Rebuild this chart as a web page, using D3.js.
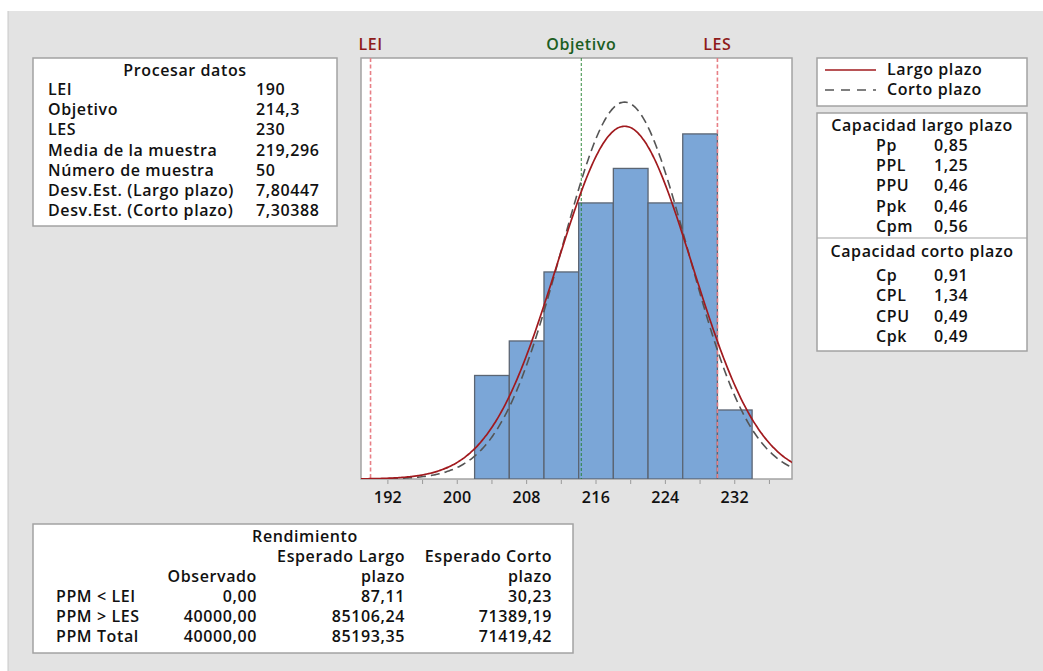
<!DOCTYPE html>
<html>
<head>
<meta charset="utf-8">
<script src="https://cdn.jsdelivr.net/npm/d3@7"></script>
<style>
  html, body { margin: 0; padding: 0; background: #ffffff; }
  svg text { font-family: "Open Sans", "Noto Sans", sans-serif; font-size: 16px; font-weight: 600; letter-spacing: 0.6px; fill: #111; }
</style>
</head>
<body>
<svg id="chart" width="1043" height="671"></svg>
<script>
// Process specification
const lei = 190;
const target = 214.3;
const les = 230;
const sampleMean = 219.296;
const sampleSize = 50;
const sdOverall = 7.80447;
const sdWithin = 7.30388;

// Histogram bins (start of each bin, width 4) and frequencies
const binStarts = [202, 206, 210, 214, 218, 222, 226, 230];
const binWidth = 4;
const binCounts = [3, 4, 6, 8, 9, 8, 10, 2];

// Axis ticks
const majorTicks = [192, 200, 208, 216, 224, 232];
const minorTicks = [196, 204, 212, 220, 228, 236];

// Text tables
const processTitle = "Procesar datos";
const processLabels = ["LEI", "Objetivo", "LES", "Media de la muestra", "Número de muestra", "Desv.Est. (Largo plazo)", "Desv.Est. (Corto plazo)"];
const processValues = ["190", "214,3", "230", "219,296", "50", "7,80447", "7,30388"];

const legendLabels = ["Largo plazo", "Corto plazo"];

const longTitle = "Capacidad largo plazo";
const longLabels = ["Pp", "PPL", "PPU", "Ppk", "Cpm"];
const longValues = ["0,85", "1,25", "0,46", "0,46", "0,56"];

const shortTitle = "Capacidad corto plazo";
const shortLabels = ["Cp", "CPL", "CPU", "Cpk"];
const shortValues = ["0,91", "1,34", "0,49", "0,49"];

const yieldTitle = "Rendimiento";
const yieldRowLabels = ["PPM < LEI", "PPM > LES", "PPM Total"];
const yieldObserved = ["0,00", "40000,00", "40000,00"];
const yieldLong = ["87,11", "85106,24", "85193,35"];
const yieldShort = ["30,23", "71389,19", "71419,42"];

const svg = d3.select("#chart");

// Panel background
svg.append("rect").attr("x", 8).attr("y", 11).attr("width", 1035).attr("height", 660)
  .attr("fill", "#e3e3e3");
svg.append("line").attr("x1", 8).attr("x2", 8).attr("y1", 11).attr("y2", 671)
  .attr("stroke", "#c8c8c8");

// Plot area
const plot = { left: 361, top: 58, right: 792, bottom: 479 };
const x = d3.scaleLinear().domain([188.9, 238.6]).range([plot.left, plot.right]);
const y = d3.scaleLinear().domain([0, 12.2]).range([plot.bottom, plot.top]);

svg.append("rect").attr("x", plot.left).attr("y", plot.top)
  .attr("width", plot.right - plot.left).attr("height", plot.bottom - plot.top)
  .attr("fill", "#ffffff").attr("stroke", "#a3a3a3").attr("stroke-width", 1.5);

svg.append("clipPath").attr("id", "plotClip").append("rect")
  .attr("x", plot.left).attr("y", plot.top)
  .attr("width", plot.right - plot.left).attr("height", plot.bottom - plot.top);

const g = svg.append("g").attr("clip-path", "url(#plotClip)");

// Histogram bars
g.selectAll("rect.bar").data(binStarts.map((s, i) => ({ s, c: binCounts[i] })))
  .join("rect").attr("class", "bar")
  .attr("x", d => x(d.s))
  .attr("y", d => y(d.c))
  .attr("width", d => x(d.s + binWidth) - x(d.s))
  .attr("height", d => y(0) - y(d.c))
  .attr("fill", "#7ba6d7")
  .attr("stroke", "#5b6573")
  .attr("stroke-width", 1.3);

// Specification lines
g.selectAll("line.spec").data([lei, les]).join("line").attr("class", "spec")
  .attr("x1", d => x(d)).attr("x2", d => x(d))
  .attr("y1", plot.top).attr("y2", plot.bottom)
  .attr("stroke", "#e87f86").attr("stroke-width", 1.6).attr("stroke-dasharray", "4,2.5");

g.append("line")
  .attr("x1", x(target)).attr("x2", x(target))
  .attr("y1", plot.top).attr("y2", plot.bottom)
  .attr("stroke", "#1f7f2a").attr("stroke-width", 0.9).attr("stroke-dasharray", "3,2");

// Fitted normal curves scaled to the histogram
const scaleFactor = sampleSize * binWidth;
const pdf = (v, m, s) => Math.exp(-0.5 * ((v - m) / s) ** 2) / (s * Math.sqrt(2 * Math.PI));
const grid = d3.range(x.domain()[0], x.domain()[1] + 0.2, 0.2);
const line = d3.line().x(d => x(d[0])).y(d => y(d[1])).curve(d3.curveBasis);

g.append("path")
  .datum(grid.map(v => [v, scaleFactor * pdf(v, sampleMean, sdWithin)]))
  .attr("d", line).attr("fill", "none")
  .attr("stroke", "#555555").attr("stroke-width", 1.6).attr("stroke-dasharray", "9,5");

g.append("path")
  .datum(grid.map(v => [v, scaleFactor * pdf(v, sampleMean, sdOverall)]))
  .attr("d", line).attr("fill", "none")
  .attr("stroke", "#a11a1e").attr("stroke-width", 1.7);

// Axis ticks and labels
svg.selectAll("line.major").data(majorTicks.concat(minorTicks)).join("line")
  .attr("x1", d => x(d)).attr("x2", d => x(d))
  .attr("y1", plot.bottom + 1).attr("y2", plot.bottom + 5)
  .attr("stroke", "#9a9a9a").attr("stroke-width", 1);

svg.selectAll("text.tick").data(majorTicks).join("text")
  .attr("x", d => x(d)).attr("y", plot.bottom + 24)
  .attr("text-anchor", "middle").style("letter-spacing", "0.3px")
  .text(d => d);

// Reference labels above the plot
const refLabels = [
  { v: lei, t: "LEI", c: "#8e1b1b" },
  { v: target, t: "Objetivo", c: "#1c5e22" },
  { v: les, t: "LES", c: "#8e1b1b" }
];
svg.selectAll("text.ref").data(refLabels).join("text")
  .attr("x", d => x(d.v)).attr("y", 50)
  .attr("text-anchor", "middle").style("fill", d => d.c)
  .text(d => d.t);

// Helper for bordered boxes
function box(x0, y0, w, h) {
  svg.append("rect").attr("x", x0).attr("y", y0).attr("width", w).attr("height", h)
    .attr("fill", "#ffffff").attr("stroke", "#a3a3a3").attr("stroke-width", 1.5);
}

// Process data table
box(33, 58, 304, 168);
svg.append("text").attr("x", 185).attr("y", 76).attr("text-anchor", "middle").text(processTitle);
processLabels.forEach((t, i) => {
  svg.append("text").attr("x", 48).attr("y", 95 + i * 20.2).text(t);
  svg.append("text").attr("x", 256).attr("y", 95 + i * 20.2).text(processValues[i]);
});

// Legend
box(817, 58, 210, 48);
svg.append("line").attr("x1", 825).attr("x2", 876).attr("y1", 70).attr("y2", 70)
  .attr("stroke", "#a11a1e").attr("stroke-width", 1.7);
svg.append("line").attr("x1", 825).attr("x2", 876).attr("y1", 90).attr("y2", 90)
  .attr("stroke", "#555555").attr("stroke-width", 1.6).attr("stroke-dasharray", "9,7");
legendLabels.forEach((t, i) => {
  svg.append("text").attr("x", 887).attr("y", 75 + i * 19.5).text(t);
});

// Capability tables
box(817, 113, 210, 238);
svg.append("line").attr("x1", 817).attr("x2", 1027).attr("y1", 238).attr("y2", 238)
  .attr("stroke", "#a3a3a3").attr("stroke-width", 1.2);
svg.append("text").attr("x", 922).attr("y", 131).attr("text-anchor", "middle").text(longTitle);
longLabels.forEach((t, i) => {
  svg.append("text").attr("x", 876).attr("y", 151 + i * 20.2).text(t);
  svg.append("text").attr("x", 934).attr("y", 151 + i * 20.2).text(longValues[i]);
});
svg.append("text").attr("x", 922).attr("y", 257).attr("text-anchor", "middle").text(shortTitle);
shortLabels.forEach((t, i) => {
  svg.append("text").attr("x", 876).attr("y", 281 + i * 20.3).text(t);
  svg.append("text").attr("x", 934).attr("y", 281 + i * 20.3).text(shortValues[i]);
});

// Yield table
box(33, 524, 540, 129);
svg.append("text").attr("x", 305).attr("y", 542).attr("text-anchor", "middle").text(yieldTitle);
const colObs = 257, colLong = 405, colShort = 552;
svg.append("text").attr("x", colLong).attr("y", 562).attr("text-anchor", "end").text("Esperado Largo");
svg.append("text").attr("x", colShort).attr("y", 562).attr("text-anchor", "end").text("Esperado Corto");
svg.append("text").attr("x", colObs).attr("y", 582).attr("text-anchor", "end").text("Observado");
svg.append("text").attr("x", colLong).attr("y", 582).attr("text-anchor", "end").text("plazo");
svg.append("text").attr("x", colShort).attr("y", 582).attr("text-anchor", "end").text("plazo");
yieldRowLabels.forEach((t, i) => {
  const yy = 602 + i * 20;
  svg.append("text").attr("x", 56).attr("y", yy).text(t);
  svg.append("text").attr("x", colObs).attr("y", yy).attr("text-anchor", "end").text(yieldObserved[i]);
  svg.append("text").attr("x", colLong).attr("y", yy).attr("text-anchor", "end").text(yieldLong[i]);
  svg.append("text").attr("x", colShort).attr("y", yy).attr("text-anchor", "end").text(yieldShort[i]);
});
</script>
</body>
</html>
